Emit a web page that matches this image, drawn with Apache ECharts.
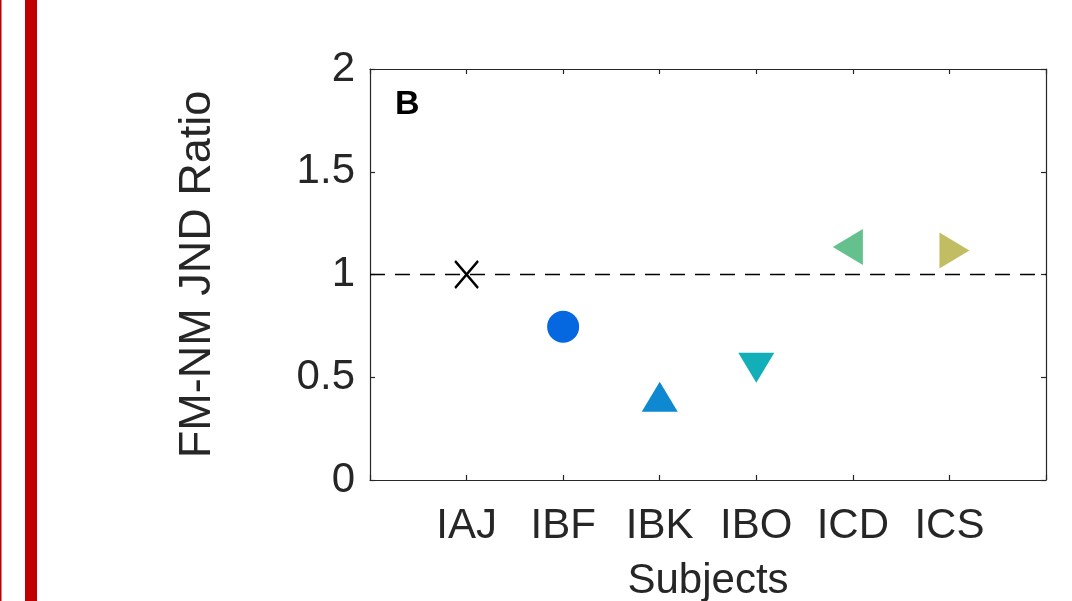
<!DOCTYPE html>
<html>
<head>
<meta charset="utf-8">
<script src="https://cdn.jsdelivr.net/npm/echarts@6/dist/echarts.min.js"></script>
<style>html,body{margin:0;padding:0;background:#fff;}#c{width:1072px;height:601px;}</style>
</head>
<body>
<div id="c"></div>
<script>
const categories = ['IAJ', 'IBF', 'IBK', 'IBO', 'ICD', 'ICS'];
const ratios = [1.0, 0.746, 0.381, 0.570, 1.134, 1.117];
const yTicks = [0, 0.5, 1, 1.5, 2];
const refValue = 1;
const panelLabel = 'B';

const markerStyles = [
  { symbol: 'path://M0,0L24,27M24,0L0,27', size: [23, 27], rotate: 0, offset: [0, 0], color: 'transparent', border: '#000000', bw: 2.4 },
  { symbol: 'circle', size: 32, rotate: 0, offset: [0, 0], color: '#0568E0' },
  { symbol: 'triangle', size: [36, 30], rotate: 0, offset: [0, -5], color: '#0E89D1' },
  { symbol: 'triangle', size: [36, 30], rotate: 180, offset: [0, 5], color: '#12AFB9' },
  { symbol: 'triangle', size: [36, 30], rotate: 90, offset: [-5, 0], color: '#64C18D' },
  { symbol: 'triangle', size: [36, 30], rotate: -90, offset: [5, 0], color: '#C2BD62' }
];

const axisColor = '#262626';
const font = 'Liberation Sans, Arial, sans-serif';

const series = categories.map((c, i) => {
  const m = markerStyles[i];
  const s = {
    type: 'scatter',
    name: c,
    data: [[i + 1, ratios[i]]],
    symbol: m.symbol,
    symbolSize: m.size,
    symbolRotate: m.rotate,
    symbolOffset: m.offset,
    itemStyle: { color: m.color, opacity: 1 },
    emphasis: { disabled: true },
    z: 5
  };
  if (m.border) {
    s.itemStyle.borderColor = m.border;
    s.itemStyle.borderWidth = m.bw;
  }
  return s;
});
series.unshift({
  type: 'line',
  data: [],
  markLine: {
    silent: true,
    symbol: ['none', 'none'],
    label: { show: false },
    lineStyle: { color: '#000', width: 1.3, type: [15, 10] },
    data: [{ yAxis: refValue }]
  },
  z: 3
});

const chart = echarts.init(document.getElementById('c'), null, { renderer: 'canvas' });
chart.setOption({
  animation: false,
  backgroundColor: '#ffffff',
  grid: { left: 370, right: 26, top: 69, bottom: 121, containLabel: false, outerBoundsMode: 'none' },
  xAxis: [{
    type: 'value', min: 0, max: 7, interval: 1,
    name: 'Subjects', nameLocation: 'middle', nameGap: 80,
    nameTextStyle: { fontSize: 42, color: axisColor, fontFamily: font },
    axisLine: { show: true, onZero: false, lineStyle: { color: axisColor, width: 1.2 } },
    axisTick: { show: true, inside: true, length: 5, lineStyle: { color: axisColor, width: 1.2 } },
    axisLabel: {
      fontSize: 42, color: axisColor, fontFamily: font, margin: 25,
      formatter: v => (v >= 1 && v <= categories.length) ? categories[v - 1] : ''
    },
    splitLine: { show: false }
  }, {
    type: 'value', min: 0, max: 7, interval: 1, position: 'top',
    axisLine: { show: true, onZero: false, lineStyle: { color: axisColor, width: 1.2 } },
    axisTick: { show: true, inside: true, length: 5, lineStyle: { color: axisColor, width: 1.2 } },
    axisLabel: { show: false },
    splitLine: { show: false }
  }],
  yAxis: [{
    type: 'value', min: yTicks[0], max: yTicks[yTicks.length - 1], interval: 0.5,
    name: 'FM-NM JND Ratio', nameLocation: 'middle', nameGap: 150,
    nameTextStyle: { fontSize: 45, color: axisColor, fontFamily: font },
    axisLine: { show: true, onZero: false, lineStyle: { color: axisColor, width: 1.2 } },
    axisTick: { show: true, inside: true, length: 5, lineStyle: { color: axisColor, width: 1.2 } },
    axisLabel: { fontSize: 42, color: axisColor, fontFamily: font, margin: 15, formatter: v => String(v) },
    splitLine: { show: false }
  }, {
    type: 'value', min: yTicks[0], max: yTicks[yTicks.length - 1], interval: 0.5, position: 'right',
    axisLine: { show: true, onZero: false, lineStyle: { color: axisColor, width: 1.2 } },
    axisTick: { show: true, inside: true, length: 5, lineStyle: { color: axisColor, width: 1.2 } },
    axisLabel: { show: false },
    splitLine: { show: false }
  }],
  graphic: [
    { type: 'rect', left: 0, top: 0, shape: { width: 1.5, height: 601 }, style: { fill: '#C00000' }, silent: true },
    { type: 'rect', left: 25, top: 0, shape: { width: 12, height: 601 }, style: { fill: '#C00000' }, silent: true },
    { type: 'text', left: 395, top: 88, style: { text: panelLabel, font: 'bold 34px Liberation Sans, Arial, sans-serif', fill: '#000' }, silent: true }
  ],
  series: series
});
</script>
</body>
</html>
